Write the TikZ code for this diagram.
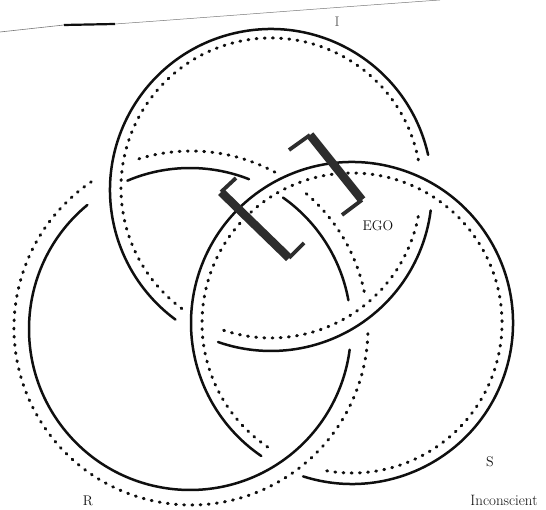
\documentclass[tikz,border=0pt]{standalone}
\begin{document}
\begin{tikzpicture}[x=1pt, y=1pt,
        ring/.style={draw=inkcolor, line width=2.5pt, line cap=round},
        ghost/.style={draw=inkcolor, line width=3pt, line cap=round, dash pattern=on 0.9pt off 7.3pt},
        spine/.style={draw=barcolor, line width=8.5pt},
        tab/.style={draw=barcolor, line width=3.8pt},
        lbl/.style={inner sep=0pt, text=inkcolor, font=\fontsize{14}{16}\selectfont}]
    % Colors
    \definecolor{inkcolor}{RGB}{15, 15, 15}
    \definecolor{barcolor}{RGB}{45, 45, 45}
    \definecolor{edgecolor}{RGB}{120, 120, 120}

    % Frame
    \useasboundingbox (0,0) rectangle (546,510);
    \fill[white] (0,0) rectangle (546,510);

    % Page edge at the top
    \draw[edgecolor, line width=0.6pt] (0,478) -- (64,485);
    \draw[inkcolor, line width=2.2pt] (64,485) -- (115,486);
    \draw[edgecolor, line width=0.5pt] (115,486) .. controls (200,492) and (300,500) .. (440,510);

    % Ring centres
    \coordinate (cI) at (271,320);
    \coordinate (cR) at (190,181);
    \coordinate (cS) at (352,187);
    \coordinate (dI) at (271,322);
    \coordinate (dR) at (191,182);
    \coordinate (dS) at (352,187);

    % --- SOLID RINGS (cut where a ring passes under) ---
    % I
    \foreach \a/\b in {12.6/233.6, -109.2/-7.3}
        \draw[ring] (cI) ++(\a:161) arc[start angle=\a, end angle=\b, radius=161];
    % R
    \foreach \a/\b in {129.6/352.6, 10.3/54.7, 68.5/112.9}
        \draw[ring] (cR) ++(\a:161) arc[start angle=\a, end angle=\b, radius=161];
    % S
    \draw[ring] (cS) ++(-107.7:161) arc[start angle=-107.7, end angle=235.7, radius=161];

    % --- DOTTED RINGS ---
    \foreach \a/\b in {10.8/234.2, -108.4/-10.6}
        \draw[ghost] (dI) ++(\a:150) arc[start angle=\a, end angle=\b, radius=150];
    \foreach \a/\b in {124.3/358.4, 11.9/51.6, 61.7/109.4}
        \draw[ghost] (dR) ++(\a:177) arc[start angle=\a, end angle=\b, radius=177];
    \draw[ghost] (dS) ++(-99.7:150) arc[start angle=-99.7, end angle=237.6, radius=150];

    % --- EGO brackets ---
    \coordinate (egoL1) at (221,318);
    \coordinate (egoL2) at (289,252);
    \coordinate (egoL1t) at (236,332);
    \coordinate (egoL2t) at (304,267);
    \coordinate (egoR1) at (310,375);
    \coordinate (egoR2) at (362,310);
    \coordinate (egoR1t) at (289,360);
    \coordinate (egoR2t) at (342,295);
    \draw[spine] (egoL1) -- (egoL2);
    \draw[tab] (egoL1) -- (egoL1t);
    \draw[tab] (egoL2) -- (egoL2t);
    \draw[spine] (egoR1) -- (egoR2);
    \draw[tab] (egoR1) -- (egoR1t);
    \draw[tab] (egoR2) -- (egoR2t);

    % Labels
    \node[lbl, text=black!60] (labI) at (337,488) {I};
    \node[lbl] (labEGO) at (378,284) {EGO};
    \node[lbl] (labS) at (490,48) {S};
    \node[lbl] (labR) at (88,9) {R};
    \node[lbl, font=\fontsize{15}{17}\selectfont] (labInc) at (504,10) {Inconscient};
\end{tikzpicture}
\end{document}
